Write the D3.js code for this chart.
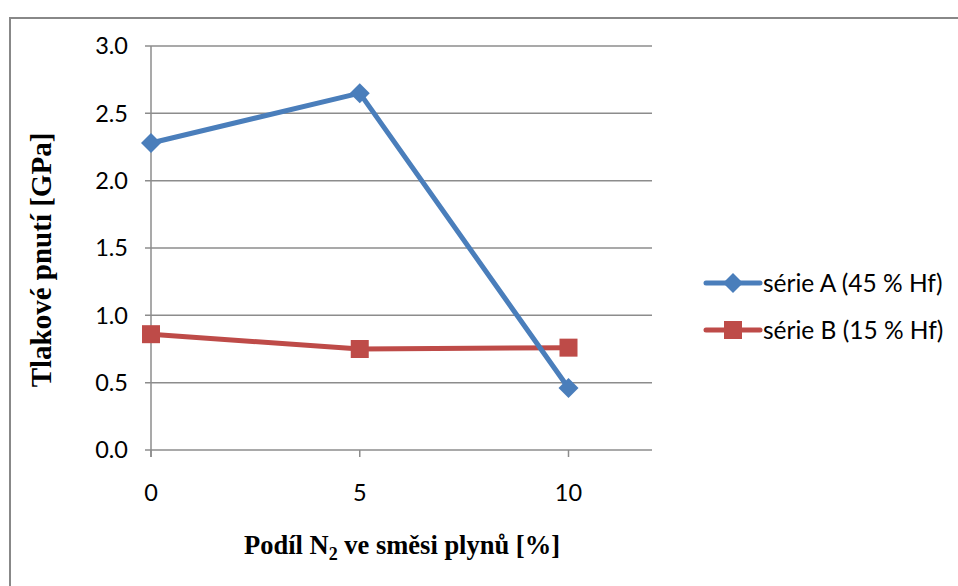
<!DOCTYPE html>
<html>
<head>
<meta charset="utf-8">
<script src="https://cdn.jsdelivr.net/npm/d3@7"></script>
<style>
  body { margin: 0; background: #fff; }
  svg { display: block; }
</style>
</head>
<body>
<div id="chart"></div>
<script>
// Data
var xValues = [0, 5, 10];
var seriesA = [2.28, 2.65, 0.46];
var seriesB = [0.86, 0.75, 0.76];
var seriesNames = ["série A (45 % Hf)", "série B (15 % Hf)"];
var xTicks = [0, 5, 10];
var yTicks = [0, 0.5, 1.0, 1.5, 2.0, 2.5, 3.0];

var width = 958;
var height = 586;
var colors = ["#4A7EBB", "#BE4B48"];

var svg = d3.select("#chart")
    .append("svg")
    .attr("width", width)
    .attr("height", height);

// outer frame of the chart area
svg.append("rect")
    .attr("x", 10).attr("y", 18)
    .attr("width", 960).attr("height", 600)
    .attr("fill", "none")
    .attr("stroke", "#888")
    .attr("stroke-width", 2);

var xScale = d3.scaleLinear().domain([0, 12]).range([151, 652]);
var yScale = d3.scaleLinear().domain([0, 3]).range([450, 46]);

// horizontal grid lines
svg.append("g")
    .selectAll("line")
    .data(yTicks)
    .enter()
    .append("line")
        .attr("x1", xScale(0) - 6)
        .attr("x2", xScale(12))
        .attr("y1", function (d) { return yScale(d); })
        .attr("y2", function (d) { return yScale(d); })
        .attr("stroke", "#8c8c8c")
        .attr("stroke-width", 1.5);

// y axis line
svg.append("line")
    .attr("x1", xScale(0)).attr("x2", xScale(0))
    .attr("y1", yScale(3)).attr("y2", yScale(0) + 7)
    .attr("stroke", "#8c8c8c")
    .attr("stroke-width", 1.5);

// x ticks
svg.append("g")
    .selectAll("line")
    .data(xTicks)
    .enter()
    .append("line")
        .attr("x1", function (d) { return xScale(d); })
        .attr("x2", function (d) { return xScale(d); })
        .attr("y1", yScale(0))
        .attr("y2", yScale(0) + 7)
        .attr("stroke", "#8c8c8c")
        .attr("stroke-width", 1.5);

// tick labels
svg.append("g")
    .selectAll("text")
    .data(yTicks)
    .enter()
    .append("text")
        .attr("x", 128)
        .attr("y", function (d) { return yScale(d); })
        .attr("dy", "0.36em")
        .attr("text-anchor", "end")
        .attr("font-family", "Lato, sans-serif")
        .attr("font-size", 23.5)
        .text(function (d) { return d3.format(".1f")(d); });

svg.append("g")
    .selectAll("text")
    .data(xTicks)
    .enter()
    .append("text")
        .attr("x", function (d) { return xScale(d); })
        .attr("y", 493)
        .attr("dy", "0.36em")
        .attr("text-anchor", "middle")
        .attr("font-family", "Lato, sans-serif")
        .attr("font-size", 23.5)
        .text(function (d) { return d; });

// axis titles
var xTitle = svg.append("text")
    .attr("x", 402)
    .attr("y", 554)
    .attr("text-anchor", "middle")
    .attr("font-family", "'Liberation Serif', 'Times New Roman', serif")
    .attr("font-weight", "bold")
    .attr("font-size", 26.5);
xTitle.append("tspan").text("Podíl N");
xTitle.append("tspan").attr("font-size", 18).attr("dy", 6).text("2");
xTitle.append("tspan").attr("dy", -6).text(" ve směsi plynů [%]");

svg.append("text")
    .attr("transform", "translate(51," + 260 + ") rotate(-90)")
    .attr("text-anchor", "middle")
    .attr("font-family", "'Liberation Serif', 'Times New Roman', serif")
    .attr("font-weight", "bold")
    .attr("font-size", 29)
    .text("Tlakové pnutí [GPa]");

// lines
var line = d3.line()
    .x(function (d) { return xScale(d.x); })
    .y(function (d) { return yScale(d.y); });

var allSeries = [seriesA, seriesB].map(function (s) {
    return s.map(function (v, i) { return { x: xValues[i], y: v }; });
});

function drawMarker(g, i, cx, cy) {
    if (i === 0) {
        g.append("path")
            .attr("d", "M" + cx + "," + (cy - 10) + " L" + (cx + 10) + "," + cy +
                       " L" + cx + "," + (cy + 10) + " L" + (cx - 10) + "," + cy + "Z")
            .attr("fill", colors[0]);
    } else {
        g.append("rect")
            .attr("x", cx - 9).attr("y", cy - 9)
            .attr("width", 18).attr("height", 18)
            .attr("fill", colors[1]);
    }
}

// series B first, then A on top
[1, 0].forEach(function (i) {
    svg.append("path")
        .datum(allSeries[i])
        .attr("d", line)
        .attr("fill", "none")
        .attr("stroke", colors[i])
        .attr("stroke-width", 5)
        .attr("stroke-linejoin", "round");
    var g = svg.append("g");
    allSeries[i].forEach(function (d) {
        drawMarker(g, i, xScale(d.x), yScale(d.y));
    });
});

// legend
var legendY = [283, 330];
seriesNames.forEach(function (name, i) {
    var g = svg.append("g");
    g.append("line")
        .attr("x1", 706).attr("x2", 760)
        .attr("y1", legendY[i]).attr("y2", legendY[i])
        .attr("stroke", colors[i])
        .attr("stroke-width", 5)
        .attr("stroke-linecap", "round");
    drawMarker(g, i, 733, legendY[i]);
    g.append("text")
        .attr("x", 763)
        .attr("y", legendY[i])
        .attr("dy", "0.36em")
        .attr("font-family", "Lato, sans-serif")
        .attr("font-size", 24.5)
        .text(name);
});
</script>
</body>
</html>
